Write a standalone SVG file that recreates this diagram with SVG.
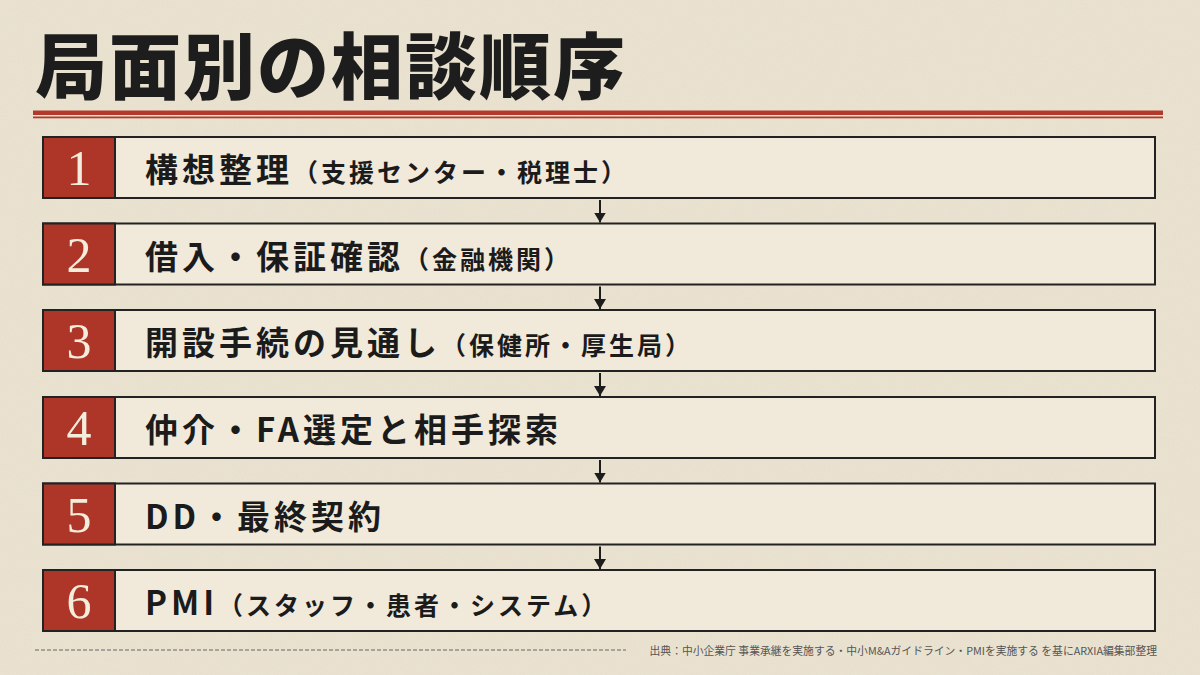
<svg xmlns="http://www.w3.org/2000/svg" width="1200" height="675" viewBox="0 0 1200 675">
<defs>
<filter id="paper" x="0" y="0" width="100%" height="100%">
<feTurbulence type="fractalNoise" baseFrequency="0.9" numOctaves="3" seed="4" result="n"/>
<feColorMatrix type="matrix" values="0 0 0 0 0.45  0 0 0 0 0.40  0 0 0 0 0.30  0 0 0 0.10 0" result="c"/>
<feComposite in="c" in2="SourceGraphic" operator="in"/>
</filter>
<marker id="ah" viewBox="0 0 10 12" markerWidth="10" markerHeight="12" refX="10" refY="6" orient="auto" markerUnits="userSpaceOnUse">
<path d="M0,0 L10,6 L0,12 Z" fill="#1c1c1c"/>
</marker>
</defs>
<style>
.box{fill:#f1eadb;stroke:#222;stroke-width:2}
.num{fill:#ad3628;stroke:#222;stroke-width:2}
.digit{font-family:"Liberation Serif",serif;font-size:50px;fill:#f5eddb;text-anchor:middle}
.lbl{font-family:"Noto Sans CJK JP","Noto Sans",sans-serif;font-weight:700;font-size:33px;fill:#1b1b1b;letter-spacing:4px}
.sub{font-size:25px;letter-spacing:3px}
.conn{stroke:#1c1c1c;stroke-width:2;fill:none}
</style>
<rect width="1200" height="675" fill="#ece4d2"/>
<rect width="1200" height="675" fill="#ece4d2" filter="url(#paper)"/>
<g id="title">
<text x="35" y="93" font-family="'Noto Sans CJK JP',sans-serif" font-weight="900" font-size="72" letter-spacing="2" fill="#1d1d1d">局面別の相談順序</text>
<rect x="33" y="110.5" width="1130" height="4.5" fill="#b23a2c"/>
<rect x="33" y="116.5" width="1130" height="1.8" fill="#b23a2c"/>
</g>
<g id="step1">
<rect class="box" x="43" y="137" width="1112" height="61"/>
<rect class="num" x="43" y="137" width="72" height="61"/>
<text class="digit" x="79" y="185">1</text>
<text class="lbl" x="145" y="182">構想整理<tspan class="sub">（支援センター・税理士）</tspan></text>
</g>
<g id="step2">
<rect class="box" x="43" y="223.5" width="1112" height="61"/>
<rect class="num" x="43" y="223.5" width="72" height="61"/>
<text class="digit" x="79" y="271.5">2</text>
<text class="lbl" x="145" y="268.5">借入・保証確認<tspan class="sub">（金融機関）</tspan></text>
</g>
<g id="step3">
<rect class="box" x="43" y="310" width="1112" height="61"/>
<rect class="num" x="43" y="310" width="72" height="61"/>
<text class="digit" x="79" y="358">3</text>
<text class="lbl" x="145" y="355">開設手続の見通し<tspan class="sub">（保健所・厚生局）</tspan></text>
</g>
<g id="step4">
<rect class="box" x="43" y="397" width="1112" height="61"/>
<rect class="num" x="43" y="397" width="72" height="61"/>
<text class="digit" x="79" y="445">4</text>
<text class="lbl" x="145" y="442">仲介・FA選定と相手探索</text>
</g>
<g id="step5">
<rect class="box" x="43" y="483.5" width="1112" height="61"/>
<rect class="num" x="43" y="483.5" width="72" height="61"/>
<text class="digit" x="79" y="531.5">5</text>
<text class="lbl" x="145" y="528.5">DD・最終契約</text>
</g>
<g id="step6">
<rect class="box" x="43" y="570" width="1112" height="61"/>
<rect class="num" x="43" y="570" width="72" height="61"/>
<text class="digit" x="79" y="618">6</text>
<text class="lbl" x="145" y="615">PMI<tspan class="sub">（スタッフ・患者・システム）</tspan></text>
</g>
<g id="connectors">
<line class="conn" x1="600" y1="200" x2="600" y2="222.5" marker-end="url(#ah)"/>
<line class="conn" x1="600" y1="286.5" x2="600" y2="309" marker-end="url(#ah)"/>
<line class="conn" x1="600" y1="373" x2="600" y2="396" marker-end="url(#ah)"/>
<line class="conn" x1="600" y1="460" x2="600" y2="482.5" marker-end="url(#ah)"/>
<line class="conn" x1="600" y1="546.5" x2="600" y2="569" marker-end="url(#ah)"/>
</g>
<g id="footer">
<line x1="35" y1="650" x2="626" y2="650" stroke="#666" stroke-width="1.2" stroke-dasharray="4,2"/>
<text x="1157" y="655" text-anchor="end" font-family="'Noto Sans CJK JP',sans-serif" font-size="10.8" fill="#555">出典：中小企業庁 事業承継を実施する・中小M&amp;Aガイドライン・PMIを実施する を基にARXIA編集部整理</text>
</g>
</svg>
